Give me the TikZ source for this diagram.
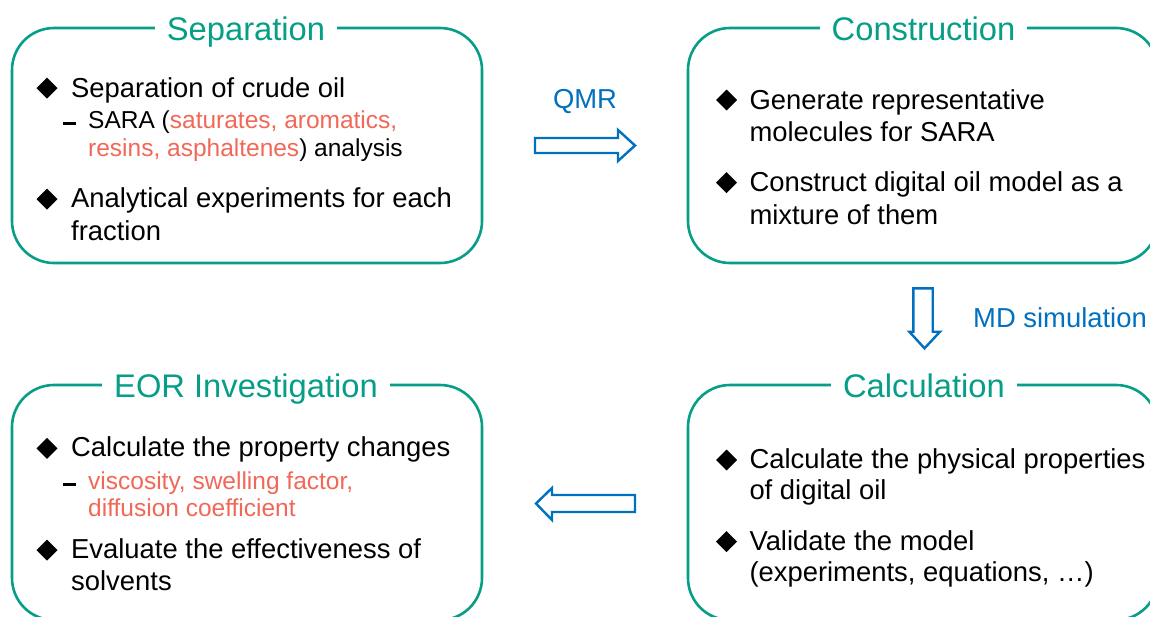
\documentclass[tikz,border=0pt]{standalone}
\usepackage{fontspec}
\setmainfont{Liberation Sans}
\definecolor{tealc}{RGB}{6,158,134}
\definecolor{salmon}{RGB}{242,104,88}
\definecolor{mblue}{RGB}{0,112,192}
\newcommand\mydia[2]{\fill[black] (#1,#2) +(-10.5,0) -- +(0,-10.5) -- +(10.5,0) -- +(0,10.5) -- cycle;}
\newcommand\mydash[2]{\fill[black] (#1,#2) +(0,-1.6) rectangle +(13,1.6);}
\begin{document}
\begin{tikzpicture}[x=1pt,y=-1pt,
  box/.style={draw=tealc, line width=2.6pt, rounded corners=42pt, minimum width=470pt, minimum height=235pt, inner sep=0pt},
  titl/.style={text=tealc, font=\fontsize{32.7}{36}\selectfont, fill=white, inner xsep=12pt, inner ysep=1pt, anchor=base},
  body/.style={font=\fontsize{27.4}{32}\selectfont, anchor=base west, inner sep=0pt},
  sub/.style={font=\fontsize{24.5}{29}\selectfont, anchor=base west, inner sep=0pt},
  blockarrow/.style={draw=mblue, line width=2.4pt, fill=white, line join=miter},
  lab/.style={text=mblue, font=\fontsize{27.4}{32}\selectfont, inner sep=0pt}]
\useasboundingbox (0,0) rectangle (1150,616);
\clip (0,0) rectangle (1150,616);
\fill[white] (0,0) rectangle (1150,616);

% boxes
\node[box] (sep) at (247,145.5) {};
\node[box] (con) at (923,145.5) {};
\node[box] (eor) at (247,502.5) {};
\node[box] (cal) at (923,502.5) {};

% titles
\node[titl] (tsep) at (246,40) {Separation};
\node[titl] (tcon) at (923.5,40) {Construction};
\node[titl] (teor) at (246,397) {EOR Investigation};
\node[titl] (tcal) at (924,397) {Calculation};

% Separation content
\mydia{47}{88}
\node[body] (s1) at (71,97.3) {Separation of crude oil};
\mydash{63}{123.3}
\node[sub] (s1a) at (88,128.3) {SARA (\textcolor{salmon}{saturates, aromatics,}};
\node[sub] (s1b) at (88,156.7) {\textcolor{salmon}{resins, asphaltenes}) analysis};
\mydia{47}{199}
\node[body] (s2) at (71,207.3) {Analytical experiments for each};
\node[body] (s2b) at (71,240) {fraction};

% Construction content
\mydia{726.5}{100}
\node[body] (c1) at (749.3,109) {Generate representative};
\node[body] (c1b) at (749.3,141.7) {molecules for SARA};
\mydia{726.5}{182.7}
\node[body] (c2) at (749.3,191.7) {Construct digital oil model as a};
\node[body] (c2b) at (749.3,224) {mixture of them};

% Calculation content
\mydia{726.5}{460}
\node[body] (k1) at (749.3,468.3) {Calculate the physical properties};
\node[body] (k1b) at (749.3,499.3) {of digital oil};
\mydia{726.5}{541.7}
\node[body] (k2) at (749.3,550) {Validate the model};
\node[body] (k2b) at (749.3,581.7) {(experiments, equations, …)};

% EOR content
\mydia{47}{448.3}
\node[body] (e1) at (71,456.7) {Calculate the property changes};
\mydash{63}{484.3}
\node[sub] (e1a) at (88,489.3) {\textcolor{salmon}{viscosity, swelling factor,}};
\node[sub] (e1b) at (88,516.7) {\textcolor{salmon}{diffusion coefficient}};
\mydia{47}{550}
\node[body] (e2) at (71,558.3) {Evaluate the effectiveness of};
\node[body] (e2b) at (71,590.7) {solvents};

% block arrows
\draw[blockarrow] (535,138) -- (618,138) -- (618,130) -- (635,145.5) -- (618,161) -- (618,153) -- (535,153) -- cycle;
\node[lab, anchor=base] (qmr) at (585,108) {QMR};

\draw[blockarrow] (913.3,288.3) -- (932.7,288.3) -- (932.7,331.7) -- (940,331.7) -- (924.5,348.3) -- (909.3,331.7) -- (913.3,331.7) -- cycle;
\node[lab, anchor=base west] (md) at (973,327) {MD simulation};

\draw[blockarrow] (635,495) -- (552,495) -- (552,488) -- (536,503.5) -- (552,520) -- (552,512) -- (635,512) -- cycle;
\end{tikzpicture}
\end{document}
